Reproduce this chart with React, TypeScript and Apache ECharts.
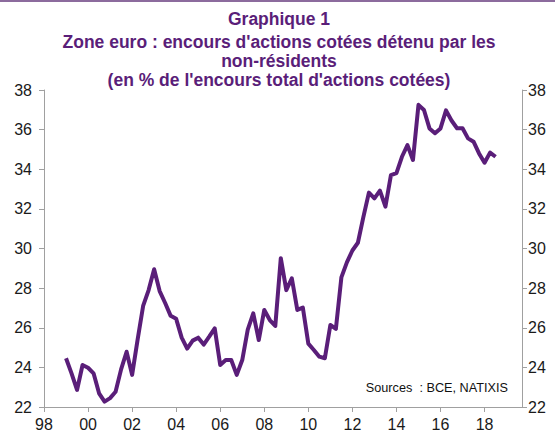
import React, { useEffect, useRef } from "react";
import * as echarts from "echarts";

const titleLines = [
  "Graphique 1",
  "Zone euro : encours d'actions cotées détenu par les",
  "non-résidents",
  "(en % de l'encours total d'actions cotées)",
];
const sourceText = "Sources  : BCE, NATIXIS";

// quarterly observations, first one at the start of 1999
const firstQuarterYear = 1999;
const nonResidentShare = [
  24.46, 23.7, 22.86, 24.12, 23.98, 23.7, 22.69, 22.27, 22.45, 22.77,
  23.9, 24.79, 23.62, 25.4, 27.1, 27.9, 28.95, 27.85, 27.25, 26.6,
  26.45, 25.5, 24.95, 25.35, 25.5, 25.15, 25.55, 25.97, 24.12, 24.37,
  24.37, 23.62, 24.37, 25.9, 26.73, 25.38, 26.9, 26.39, 26.09, 29.51,
  27.9, 28.5, 26.9, 27.02, 25.2, 24.88, 24.54, 24.46, 26.14, 25.94,
  28.54, 29.3, 29.9, 30.29, 31.6, 32.82, 32.53, 32.92, 32.11, 33.7,
  33.8, 34.63, 35.22, 34.47, 37.25, 36.99, 36.06, 35.82, 36.06, 36.97,
  36.46, 36.07, 36.07, 35.56, 35.39, 34.8, 34.33, 34.84, 34.63,
];

const xMin = 1998;
const xMax = 2019.7;
const xStep = 2;
const yMin = 22;
const yMax = 38;
const yStep = 2;

const purple = "#5a1e79";
const axisGrey = "#a0a0a0";
const labelColor = "#1a1a1a";
const fontFamily = "'Liberation Sans', Arial, sans-serif";
const titleYs = [19, 42, 61, 80];

export default function App() {
  const ref = useRef<HTMLDivElement>(null);

  useEffect(() => {
    if (!ref.current) return;
    const chart = echarts.init(ref.current, undefined, { renderer: "svg" });

    const yAxisCommon = {
      type: "value" as const,
      min: yMin,
      max: yMax,
      interval: yStep,
      splitLine: { show: false },
      axisLine: { show: true, lineStyle: { color: axisGrey, width: 1 } },
      axisTick: { show: true, length: 5, lineStyle: { color: axisGrey } },
    };
    const yLabel = (margin: number) => ({
      color: labelColor,
      fontSize: 16,
      fontFamily,
      margin,
    });

    chart.setOption({
      animation: false,
      backgroundColor: "#ffffff",
      grid: { left: 44, right: 33, top: 90, bottom: 26 },
      xAxis: {
        type: "value",
        min: xMin,
        max: xMax,
        interval: xStep,
        splitLine: { show: false },
        axisLine: { show: true, lineStyle: { color: axisGrey, width: 1 } },
        axisTick: { show: true, length: 5, lineStyle: { color: axisGrey } },
        axisLabel: {
          color: labelColor,
          fontSize: 16,
          fontFamily,
          margin: 9,
          showMaxLabel: false,
          formatter: (v: number) => {
            const r = Math.round(v);
            if (Math.abs(v - r) > 1e-6 || r % 2 !== 0) return "";
            return String(r % 100).padStart(2, "0");
          },
        },
      },
      yAxis: [
        { ...yAxisCommon, position: "left", axisLabel: yLabel(12) },
        { ...yAxisCommon, position: "right", axisLabel: yLabel(6) },
      ],
      series: [
        {
          type: "line",
          data: nonResidentShare.map((v, i) => [firstQuarterYear + i / 4, v]),
          yAxisIndex: 0,
          showSymbol: false,
          symbol: "none",
          lineStyle: { color: purple, width: 4, join: "round" },
          itemStyle: { color: purple },
        },
      ],
      graphic: [
        {
          type: "rect",
          left: 0,
          top: 0,
          shape: { x: 0, y: 0, width: 555, height: 2 },
          style: { fill: "#8c6b9d" },
        },
        ...titleLines.map((t, i) => ({
          type: "text",
          x: 279,
          y: titleYs[i],
          style: {
            text: t,
            fill: purple,
            font: `bold 17.5px ${fontFamily}`,
            textAlign: "center",
            textVerticalAlign: "middle",
          },
        })),
        {
          type: "text",
          x: 508,
          y: 388,
          style: {
            text: sourceText,
            fill: "#111111",
            font: `12.7px ${fontFamily}`,
            textAlign: "right",
            textVerticalAlign: "middle",
          },
        },
      ],
    });

    return () => chart.dispose();
  }, []);

  return (
    <div
      ref={ref}
      style={{ position: "fixed", left: 0, top: 0, width: 555, height: 433 }}
    />
  );
}
